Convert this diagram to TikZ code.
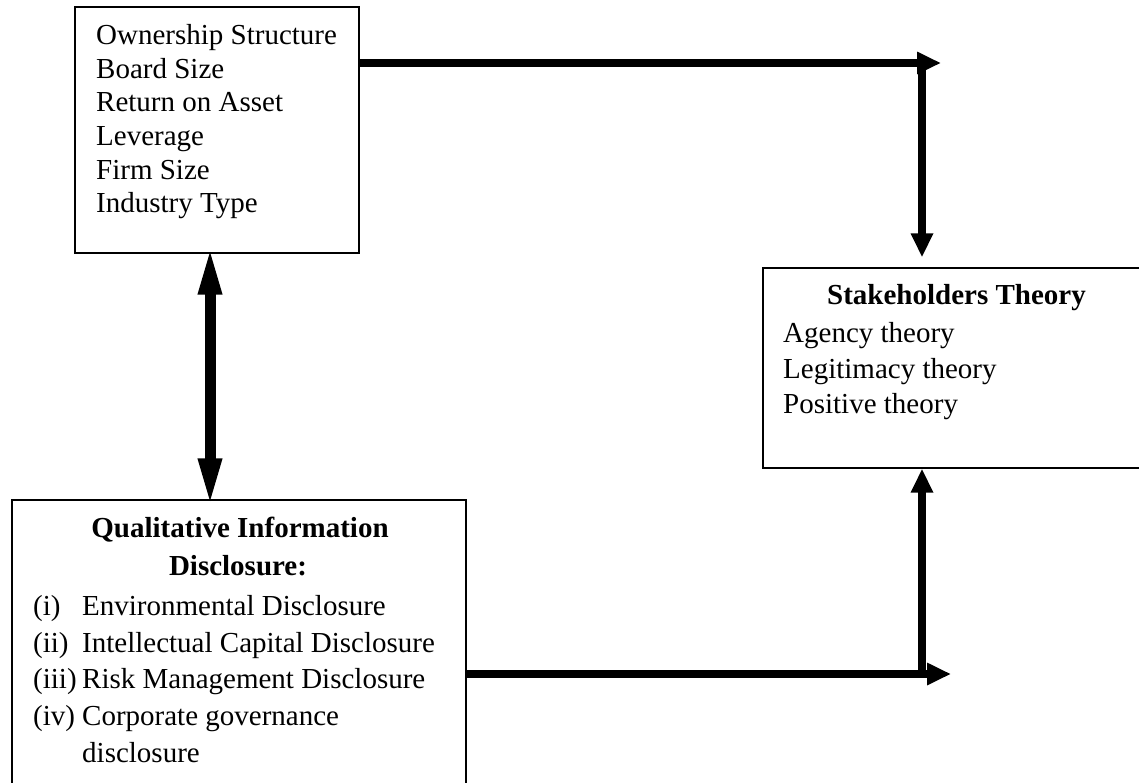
\documentclass[tikz,border=0pt]{standalone}
\usepackage{fontspec}
\setmainfont{Liberation Serif}
\usetikzlibrary{arrows.meta}
\tikzset{
  box/.style={draw, line width=1.3pt, inner sep=0pt},
  txt/.style={inner sep=0pt, anchor=base west, font=\fontsize{29}{34}\selectfont},
  ttl/.style={inner sep=0pt, anchor=base, font=\fontsize{29}{34}\selectfont\bfseries},
  flow/.style={line width=7.5pt, -{Triangle[length=24pt,width=21pt]}},
  dbl/.style={line width=11pt, {Triangle[length=50pt,width=21pt]}-{Triangle[length=50pt,width=21pt]}, shorten <=-9pt, shorten >=-9pt}
}
\begin{document}
\begin{tikzpicture}[x=1pt,y=-1pt]
\useasboundingbox (0,0) rectangle (1139,783);
\clip (0,0) rectangle (1139,783);
% boxes
\node[box, minimum width=284pt, minimum height=246pt] (tb) at (217,130) {};
\node[box, minimum width=397pt, minimum height=200pt] (sh) at (961.5,368) {};
\node[box, minimum width=454pt, minimum height=320pt] (qb) at (239,660) {};
% top box text
\node[txt] (t1) at (96,45) {Ownership Structure};
\node[txt] (t2) at (96,79) {Board Size};
\node[txt] (t3) at (96,112) {Return on Asset};
\node[txt] (t4) at (96,146) {Leverage};
\node[txt] (t5) at (96,180) {Firm Size};
\node[txt] (t6) at (96,213) {Industry Type};
% stakeholders text
\node[ttl] (s0) at (956.5,305) {Stakeholders Theory};
\node[txt] (s1) at (783,342) {Agency theory};
\node[txt] (s2) at (783,378) {Legitimacy theory};
\node[txt] (s3) at (783,413) {Positive theory};
% qualitative text
\node[ttl] (q0) at (240,537) {Qualitative Information};
\node[ttl] (q1) at (238,575) {Disclosure:};
\node[txt] (l1) at (33,615) {(i)};
\node[txt] (i1) at (82,615) {Environmental Disclosure};
\node[txt] (l2) at (33,652) {(ii)};
\node[txt] (i2) at (82,652) {Intellectual Capital Disclosure};
\node[txt] (l3) at (33,688) {(iii)};
\node[txt] (i3) at (82,688) {Risk Management Disclosure};
\node[txt] (l4) at (33,725) {(iv)};
\node[txt] (i4) at (82,725) {Corporate governance};
\node[txt] (i5) at (82,762) {disclosure};
% connectors
\coordinate (c1) at (941,63);
\coordinate (c2) at (922,60);
\coordinate (c3) at (951,674);
\coordinate (c4) at (922,677);
\coordinate (c5) at (210,0);
\draw[flow] (tb.east |- c1) -- (c1);
\draw[flow, shorten >=10pt] (c2) -- (sh.north -| c2);
\draw[flow] (qb.east |- c3) -- (c3);
\draw[flow] (c4) -- (sh.south -| c4);
\draw[dbl] (tb.south -| c5) -- (qb.north -| c5);
\end{tikzpicture}
\end{document}
